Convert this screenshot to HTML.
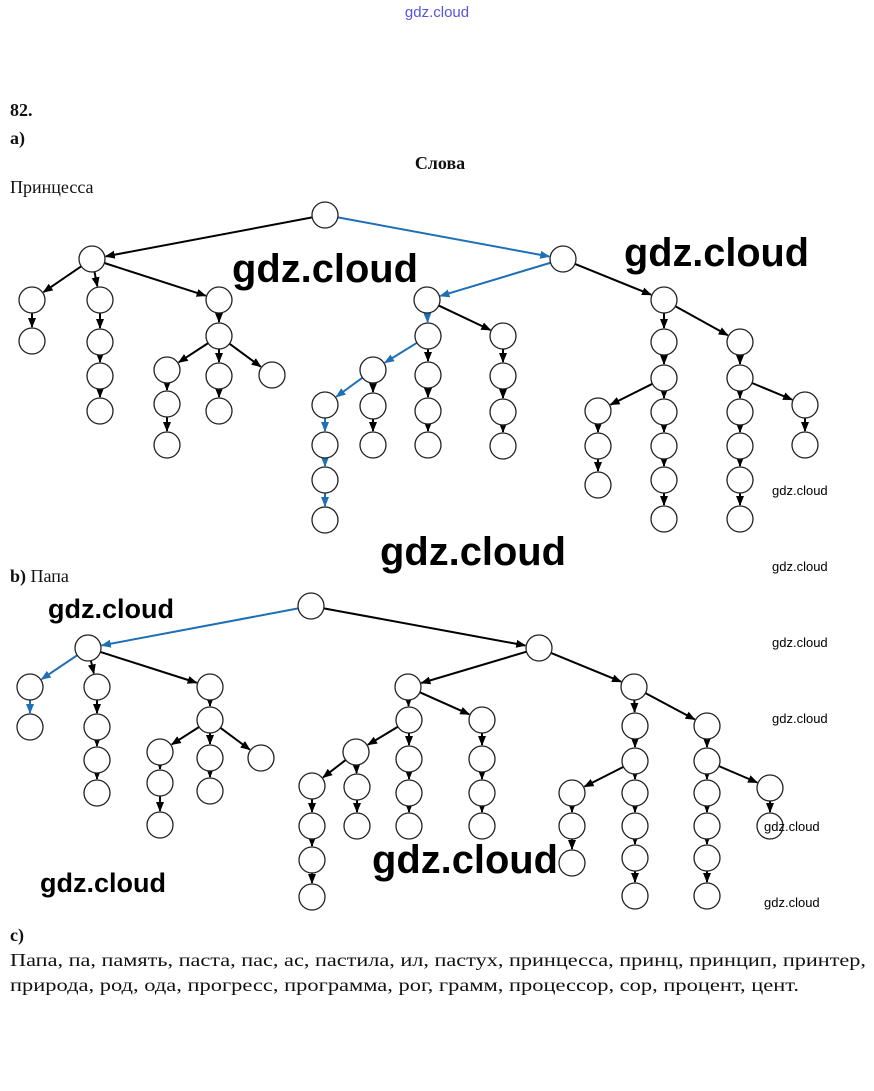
<!DOCTYPE html>
<html><head><meta charset="utf-8"><style>
html,body{margin:0;padding:0;background:#fff;width:874px;height:1091px;overflow:hidden}
svg{display:block}
.s{font-family:"Liberation Serif","Noto Serif CJK SC",serif;fill:#111}
.w{font-family:"Liberation Sans","DejaVu Sans",sans-serif;font-weight:bold;fill:#000}
.ws{font-family:"Liberation Sans","DejaVu Sans",sans-serif;fill:#000}
</style></head><body>
<svg id="sv" width="874" height="1091" viewBox="0 0 874 1091" xmlns="http://www.w3.org/2000/svg">
<defs>
<marker id="mk" markerWidth="10" markerHeight="10" refX="9" refY="5" orient="auto" markerUnits="userSpaceOnUse"><path d="M0,1 L10,5 L0,9 z" fill="#000"/></marker>
<marker id="mb" markerWidth="10" markerHeight="10" refX="9" refY="5" orient="auto" markerUnits="userSpaceOnUse"><path d="M0,1 L10,5 L0,9 z" fill="#1f6fb5"/></marker>
</defs>
<text x="437" y="17" text-anchor="middle" font-family="Liberation Sans,sans-serif" font-size="15" fill="#5555dd">gdz.cloud</text>
<text class="s" x="10" y="116" font-size="18" font-weight="bold">82.</text>
<text class="s" x="10" y="144" font-size="18" font-weight="bold">a)</text>
<text class="s" x="440" y="169" font-size="18" font-weight="bold" text-anchor="middle" fill="#555">Слова</text>
<text class="s" x="10" y="193" font-size="18" fill="#444">Принцесса</text>
<text class="s" x="10" y="582" font-size="18"><tspan font-weight="bold">b)</tspan> Папа</text>
<text class="s" x="10" y="941" font-size="18" font-weight="bold">c)</text>
<text class="s" x="10" y="966" font-size="18" textLength="856" lengthAdjust="spacingAndGlyphs" fill="#333">Папа, па,  память, паста, пас, ас, пастила, ил, пастух, принцесса, принц, принцип, принтер,</text>
<text class="s" x="10" y="991" font-size="18" textLength="789" lengthAdjust="spacingAndGlyphs" fill="#333">природа, род, ода, прогресс, программа, рог, грамм, процессор, сор, процент, цент.</text>
<g id="g"></g>
<text class="w" x="232" y="282" font-size="40" textLength="186" lengthAdjust="spacingAndGlyphs">gdz.cloud</text>
<text class="w" x="624" y="266" font-size="40" textLength="185" lengthAdjust="spacingAndGlyphs">gdz.cloud</text>
<text class="w" x="380" y="565" font-size="40" textLength="186" lengthAdjust="spacingAndGlyphs">gdz.cloud</text>
<text class="w" x="372" y="873" font-size="40" textLength="186" lengthAdjust="spacingAndGlyphs">gdz.cloud</text>
<text class="w" x="48" y="618" font-size="27" textLength="126" lengthAdjust="spacingAndGlyphs">gdz.cloud</text>
<text class="w" x="40" y="892" font-size="27" textLength="126" lengthAdjust="spacingAndGlyphs">gdz.cloud</text>
<text class="ws" x="772" y="495" font-size="13">gdz.cloud</text>
<text class="ws" x="772" y="571" font-size="13">gdz.cloud</text>
<text class="ws" x="772" y="647" font-size="13">gdz.cloud</text>
<text class="ws" x="772" y="723" font-size="13">gdz.cloud</text>
<text class="ws" x="764" y="831" font-size="13">gdz.cloud</text>
<text class="ws" x="764" y="907" font-size="13">gdz.cloud</text>
</svg>
<script>
var R=13,NS="http://www.w3.org/2000/svg",g=document.getElementById("g");
var E=[],N={};
function chain(pts,blue){for(var i=0;i<pts.length-1;i++)E.push([pts[i],pts[i+1],blue]);}
function P(a,b){return [a,b];}
// tree a
chain([P(325,215),P(92,259)]);chain([P(325,215),P(563,259)],1);
chain([P(92,259),P(32,300),P(32,341)]);
chain([P(92,259),P(100,300),P(100,342),P(100,376),P(100,411)]);
chain([P(92,259),P(219,300),P(219,336),P(167,370),P(167,404),P(167,445)]);
chain([P(219,336),P(219,376),P(219,411)]);chain([P(219,336),P(272,375)]);
chain([P(563,259),P(427,300),P(428,336),P(373,370),P(325,405),P(325,445),P(325,480),P(325,520)],1);
chain([P(563,259),P(664,300)]);
chain([P(428,336),P(428,375),P(428,411),P(428,445)]);
chain([P(427,300),P(503,336),P(503,376),P(503,412),P(503,446)]);
chain([P(373,370),P(373,406),P(373,445)]);
chain([P(664,300),P(664,342),P(664,378),P(598,411),P(598,446),P(598,485)]);
chain([P(664,378),P(664,412),P(664,446),P(664,480),P(664,519)]);
chain([P(664,300),P(740,342),P(740,378),P(740,412),P(740,446),P(740,480),P(740,519)]);
chain([P(740,378),P(805,405),P(805,445)]);
// tree b
chain([P(311,606),P(88,648),P(30,687),P(30,727)],1);
chain([P(311,606),P(539,648)]);
chain([P(88,648),P(97,687),P(97,727),P(97,760),P(97,793)]);
chain([P(88,648),P(210,687),P(210,720),P(160,752),P(160,783),P(160,825)]);
chain([P(210,720),P(210,758),P(210,791)]);chain([P(210,720),P(261,758)]);
chain([P(539,648),P(408,687),P(409,720),P(409,759),P(409,793),P(409,826)]);
chain([P(409,720),P(356,752),P(312,786),P(312,826),P(312,860),P(312,897)]);
chain([P(356,752),P(357,787),P(357,826)]);
chain([P(408,687),P(482,720),P(482,759),P(482,793),P(482,826)]);
chain([P(539,648),P(634,687),P(635,726),P(635,761),P(572,793),P(572,826),P(572,863)]);
chain([P(635,761),P(635,793),P(635,826),P(635,858),P(635,896)]);
chain([P(634,687),P(707,726),P(707,761),P(707,793),P(707,826),P(707,858),P(707,896)]);
chain([P(707,761),P(770,788),P(770,826)]);
E.forEach(function(e){
 var a=e[0],b=e[1],dx=b[0]-a[0],dy=b[1]-a[1],d=Math.sqrt(dx*dx+dy*dy),ux=dx/d,uy=dy/d;
 var l=document.createElementNS(NS,"line");
 l.setAttribute("x1",a[0]+ux*R);l.setAttribute("y1",a[1]+uy*R);
 l.setAttribute("x2",b[0]-ux*(R+1));l.setAttribute("y2",b[1]-uy*(R+1));
 l.setAttribute("stroke",e[2]?"#1f6fb5":"#000");l.setAttribute("stroke-width","2");
 l.setAttribute("marker-end",e[2]?"url(#mb)":"url(#mk)");g.appendChild(l);
 N[a.join()]=a;N[b.join()]=b;
});
Object.keys(N).forEach(function(k){var p=N[k],c=document.createElementNS(NS,"circle");
 c.setAttribute("cx",p[0]);c.setAttribute("cy",p[1]);c.setAttribute("r",R);
 c.setAttribute("fill","#fff");c.setAttribute("stroke","#222");c.setAttribute("stroke-width","1.3");g.appendChild(c);});
</script>
</body></html>
